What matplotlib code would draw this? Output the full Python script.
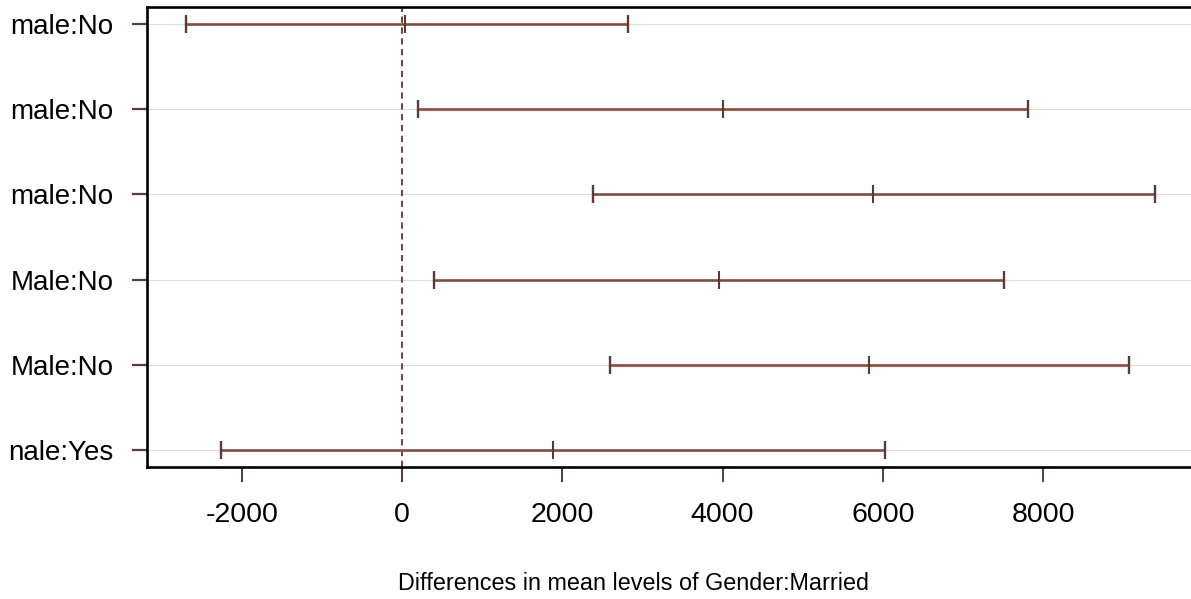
import matplotlib
matplotlib.use("Agg")
import matplotlib.pyplot as plt
import numpy as np

# Data (top row first)
labels = ["male:No", "male:No", "male:No", "Male:No", "Male:No", "nale:Yes"]
diff = [40, 4000, 5875, 3950, 5825, 1888]
lwr = [-2700, 204, 2387, 400, 2600, -2266]
upr = [2825, 7812, 9400, 7512, 9075, 6025]
xticks = [-2000, 0, 2000, 4000, 6000, 8000]
xlabel = "Differences in mean levels of Gender:Married"

plt.rcParams['font.family'] = ['Liberation Sans', 'DejaVu Sans']

W, H = 1191, 599
fig = plt.figure(figsize=(W / 100, H / 100), dpi=100)
ax = fig.add_axes([147 / W, (H - 467) / H, (1194 - 147) / W, (467 - 7) / H])

n = len(labels)
yvals = np.arange(n, 0, -1)

line_col = '#8a4a3e'
cap_col = '#5e3a36'

# light horizontal guide lines
for y in yvals:
    ax.axhline(y, color='#dcdcdc', lw=0.8, zorder=1)

# vertical dashed line at zero
ax.axvline(0, color='#6e4a48', lw=1.5, ls=(0, (3, 2.2)), zorder=2)

# intervals
ax.hlines(yvals, lwr, upr, color=line_col, lw=1.9, zorder=3)
ax.scatter(lwr, yvals, marker='|', s=185, color=cap_col, linewidths=1.7, zorder=4)
ax.scatter(upr, yvals, marker='|', s=185, color=cap_col, linewidths=1.7, zorder=4)
ax.scatter(diff, yvals, marker='|', s=185, color=cap_col, linewidths=1.5, zorder=4)

lo = min(lwr); hi = max(upr); r = hi - lo
ax.set_xlim(lo - 0.04 * r, hi + 0.04 * r)
ax.set_ylim(1 - 0.04 * (n - 1), n + 0.04 * (n - 1))

ax.set_yticks(yvals)
ax.set_yticklabels(labels, fontsize=20)
ax.set_xticks(xticks)
ax.set_xticklabels([str(v) for v in xticks], fontsize=20.5)

ax.tick_params(axis='y', length=11, width=1.6, color='#5a3a3a', pad=13)
ax.tick_params(axis='x', length=11, width=1.4, color='#5a3a3a', pad=14)

for s in ['left', 'top', 'bottom', 'right']:
    ax.spines[s].set_linewidth(1.9)
    ax.spines[s].set_color('black')

fig.text(633 / W, 1 - 583 / H, xlabel, ha='center', va='center', fontsize=16.8)

fig.savefig('out.png', dpi=100)
